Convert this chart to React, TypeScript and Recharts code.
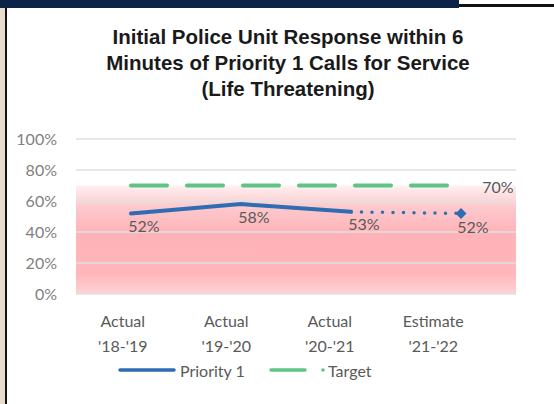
import { LabelList, Legend, Line, LineChart, ReferenceArea, ReferenceLine, XAxis, YAxis } from "recharts"

// category labels (two lines each)
const CATEGORY_TOP = ["Actual", "Actual", "Actual", "Estimate"]
const CATEGORY_BOTTOM = ["'18-'19", "'19-'20", "'20-'21", "'21-'22"]

// percent values
const PRIORITY_ACTUAL = [52, 58, 53, null]
const PRIORITY_ESTIMATE = [null, null, 53, 52]
const TARGET = [70, 70, 70, 70]
const Y_TICKS = [0, 20, 40, 60, 80, 100]

const BLUE = "#2E6DB4"
const GREEN = "#5DC485"
const TEXT = "#595959"
const FONT = "Lato, 'Open Sans', sans-serif"

const data = CATEGORY_TOP.map((top, i) => ({
  key: `${top} ${CATEGORY_BOTTOM[i]}`,
  actual: PRIORITY_ACTUAL[i],
  estimate: PRIORITY_ESTIMATE[i],
  target: TARGET[i],
}))

const last = data.length - 1

function CategoryTick({ x, y, payload }: any) {
  const i = payload.index
  return (
    <text x={x} y={y} textAnchor="middle" fill={TEXT} fontSize={16} fontFamily={FONT}>
      <tspan x={x} dy="1em">{CATEGORY_TOP[i]}</tspan>
      <tspan x={x} dy={25}>{CATEGORY_BOTTOM[i]}</tspan>
    </text>
  )
}

const pctLabel = (dx: number, dy: number, onlyLast = false) => (props: any) => {
  const { x, y, value, index } = props
  if (value == null) return null
  if (onlyLast && index !== last) return null
  return (
    <text x={x + dx} y={y + dy} textAnchor="middle" dominantBaseline="central" fill={TEXT} fontSize={16} fontFamily={FONT}>
      {value}%
    </text>
  )
}

function Diamond(props: any) {
  const { cx, cy, index } = props
  if (index !== last || cx == null) return <g key={index} />
  const r = 5.5
  return <path key={index} d={`M${cx},${cy - r}L${cx + r},${cy}L${cx},${cy + r}L${cx - r},${cy}Z`} fill={BLUE} />
}

function LegendContent() {
  return (
    <svg width={554} height={24} style={{ display: "block" }}>
      <line x1={120} y1={12} x2={174} y2={12} stroke={BLUE} strokeWidth={3.5} strokeLinecap="round" />
      <text x={180} y={12} dominantBaseline="central" fill={TEXT} fontSize={16} fontFamily={FONT}>Priority 1</text>
      <line x1={271} y1={12} x2={305} y2={12} stroke={GREEN} strokeWidth={3.5} strokeLinecap="round" />
      <circle cx={323} cy={12} r={1.8} fill={GREEN} />
      <text x={328} y={12} dominantBaseline="central" fill={TEXT} fontSize={16} fontFamily={FONT}>Target</text>
    </svg>
  )
}

export default function App() {
  return (
    <div style={{ position: "absolute", left: 0, top: 0, width: 554, height: 404, background: "#fff", overflow: "hidden" }}>
      <div style={{ position: "absolute", left: 0, top: 0, width: 459, height: 8, background: "#0c2347" }} />
      <div style={{ position: "absolute", left: 459, top: 4, width: 95, height: 3, background: "#111" }} />
      <div style={{ position: "absolute", left: 0, top: 8, width: 5, height: 396, background: "#e8dccf" }} />
      <div style={{ position: "absolute", left: 5, top: 8, width: 2, height: 396, background: "#111" }} />

      <div
        style={{
          position: "absolute",
          left: 68,
          top: 24,
          width: 440,
          textAlign: "center",
          fontFamily: "'Liberation Sans', Arial, sans-serif",
          fontWeight: 700,
          fontSize: 20.5,
          lineHeight: "26px",
          color: "#1a1a1a",
        }}
      >
        Initial Police Unit Response within 6<br />
        Minutes of Priority 1 Calls for Service<br />
        (Life Threatening)
      </div>

      <div style={{ position: "absolute", left: 0, top: 0 }}>
        <LineChart width={554} height={404} data={data} margin={{ top: 139, right: 38, bottom: 60, left: 0 }}>
          <defs>
            <linearGradient id="pinkBand" x1="0" y1="0" x2="0" y2="1">
              <stop offset="0" stopColor="#fff0f1" />
              <stop offset="0.2" stopColor="#fcc9cc" />
              <stop offset="0.45" stopColor="#ffb2b7" />
              <stop offset="0.8" stopColor="#ffb6ba" />
              <stop offset="1" stopColor="#fdd2d4" />
            </linearGradient>
          </defs>
          <XAxis
            xAxisId="lbl"
            dataKey="key"
            scale="band"
            height={50}
            padding={{ left: -5, right: 31 }}
            axisLine={false}
            tickLine={false}
            tickSize={0}
            tickMargin={17}
            interval={0}
            tick={<CategoryTick />}
          />
          <XAxis dataKey="key" scale="band" height={0} hide />
          <YAxis
            domain={[0, 100]}
            ticks={Y_TICKS}
            width={76}
            axisLine={false}
            tickLine={false}
            tickSize={0}
            tickMargin={19}
            tickFormatter={(v) => `${v}%`}
            tick={{ fill: "#7f7f7f", fontSize: 16, fontFamily: FONT }}
          />
          <ReferenceArea y1={0} y2={70} fill="url(#pinkBand)" fillOpacity={1} stroke="none" />
          {Y_TICKS.map((t) => (
            <ReferenceLine key={t} y={t} stroke="#e1e1e1" strokeWidth={1.3} />
          ))}
          <Line
            dataKey="target"
            stroke={GREEN}
            strokeWidth={4}
            strokeDasharray="36 20"
            strokeLinecap="round"
            dot={false}
            isAnimationActive={false}
          >
            <LabelList content={pctLabel(37, 1, true)} />
          </Line>
          <Line
            dataKey="estimate"
            stroke={BLUE}
            strokeWidth={3.5}
            strokeDasharray="0 10.5"
            strokeLinecap="round"
            dot={<Diamond />}
            isAnimationActive={false}
          >
            <LabelList content={pctLabel(12, 13, true)} />
          </Line>
          <Line
            dataKey="actual"
            stroke={BLUE}
            strokeWidth={4}
            strokeLinecap="round"
            dot={false}
            isAnimationActive={false}
          >
            <LabelList content={pctLabel(13, 12)} />
          </Line>
          <Legend
            layout="horizontal"
            verticalAlign="middle"
            wrapperStyle={{ position: "absolute", left: 0, top: 358, width: 554, height: 24 }}
            content={<LegendContent />}
          />
        </LineChart>
      </div>
    </div>
  )
}
